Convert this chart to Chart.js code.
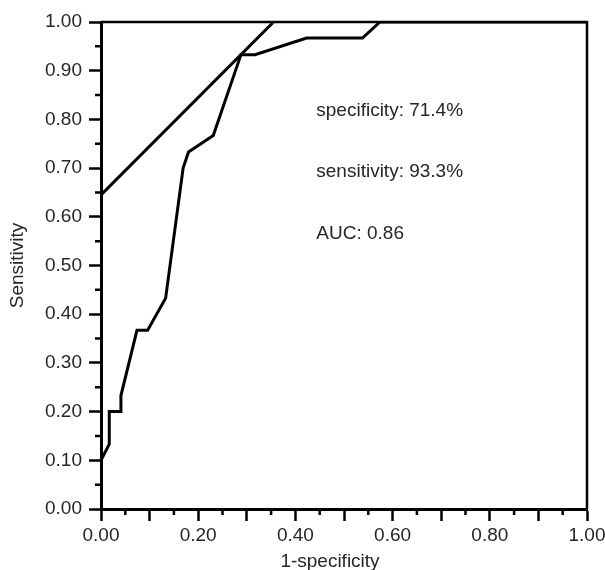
<!DOCTYPE html>
<html>
<head>
<meta charset="utf-8">
<script src="https://cdn.jsdelivr.net/npm/chart.js@4.4.1/dist/chart.umd.min.js"></script>
<style>
  html, body { margin: 0; padding: 0; background: #fff; }
  canvas { display: block; }
</style>
</head>
<body>
<canvas id="roc-chart" width="605" height="570"></canvas>
<script>
// ROC curve: 1-specificity vs sensitivity
const fpr = [0, 0, 0.017, 0.017, 0.041, 0.041, 0.074, 0.096, 0.133, 0.169, 0.180, 0.231, 0.288, 0.317, 0.423, 0.538, 0.574, 1.0];
const tpr = [0, 0.10, 0.133, 0.20, 0.20, 0.233, 0.367, 0.367, 0.433, 0.70, 0.733, 0.767, 0.933, 0.933, 0.967, 0.967, 1.0, 1.0];

// tangent line through the cut-off point
const cutoffX = [0, 0.355];
const cutoffY = [0.645, 1.0];

const annotations = ["specificity: 71.4%", "sensitivity: 93.3%", "AUC: 0.86"];
const annotationX = 0.443;
const annotationY = [0.806, 0.682, 0.554];

const xTitle = "1-specificity";
const yTitle = "Sensitivity";

const FONT = '"Liberation Sans", Arial, Helvetica, sans-serif';
const TEXT = "#262626";
Chart.defaults.font.family = FONT;
Chart.defaults.color = TEXT;

function toPoints(xs, ys) {
  return xs.map((x, i) => ({ x, y: ys[i] }));
}

const framePlugin = {
  id: "frame",
  afterDraw(chart) {
    const { ctx, chartArea: area, scales } = chart;
    const x = scales.x;
    const y = scales.y;
    ctx.save();
    ctx.strokeStyle = "#000";
    ctx.lineWidth = 2.5;
    ctx.beginPath();
    ctx.moveTo(area.left, area.top);
    ctx.lineTo(area.right, area.top);
    ctx.lineTo(area.right, area.bottom);
    ctx.stroke();

    // minor ticks every 0.05
    ctx.beginPath();
    for (let i = 0; i < 10; i++) {
      const v = 0.05 + i * 0.1;
      const px = x.getPixelForValue(v);
      ctx.moveTo(px, area.bottom);
      ctx.lineTo(px, area.bottom + 6);
      const py = y.getPixelForValue(v);
      ctx.moveTo(area.left, py);
      ctx.lineTo(area.left - 6, py);
    }
    ctx.stroke();

    ctx.fillStyle = TEXT;
    ctx.font = "19px " + FONT;
    ctx.textAlign = "left";
    ctx.textBaseline = "alphabetic";
    annotations.forEach((label, i) => {
      ctx.fillText(label, x.getPixelForValue(annotationX), y.getPixelForValue(annotationY[i]));
    });

    ctx.textAlign = "center";
    ctx.textBaseline = "middle";
    ctx.fillText(xTitle, 330, 562);
    ctx.translate(18, (area.top + area.bottom) / 2);
    ctx.rotate(-Math.PI / 2);
    ctx.fillText(yTitle, 0, 0);
    ctx.restore();
  },
};

const ctx = document.getElementById("roc-chart").getContext("2d");
new Chart(ctx, {
  type: "scatter",
  data: {
    datasets: [
      {
        label: "ROC",
        data: toPoints(fpr, tpr),
        showLine: true,
        borderColor: "#000",
        borderWidth: 3,
        pointRadius: 0,
        tension: 0,
      },
      {
        label: "Cut-off",
        data: toPoints(cutoffX, cutoffY),
        showLine: true,
        borderColor: "#000",
        borderWidth: 3,
        pointRadius: [0, 1.5],
        pointBackgroundColor: "#e8e000",
        pointBorderWidth: 0,
      },
    ],
  },
  options: {
    responsive: false,
    animation: false,
    devicePixelRatio: 1,
    layout: { padding: { top: 22, right: 18, left: 0, bottom: 0 } },
    plugins: {
      legend: { display: false },
      tooltip: { enabled: false },
    },
    scales: {
      x: {
        type: "linear",
        min: 0,
        max: 1,
        afterFit: (scale) => {
          scale.height = 61;
          scale.paddingLeft = 0;
          scale.paddingRight = 0;
        },
        border: { display: true, color: "#000", width: 3 },
        grid: { drawOnChartArea: false, drawTicks: true, tickLength: 12, tickWidth: 2.5, tickColor: "#000" },
        ticks: {
          stepSize: 0.1,
          autoSkip: false,
          maxRotation: 0,
          padding: 3,
          font: { size: 19 },
          callback: (v) => (Math.round(v * 10) % 2 === 0 ? v.toFixed(2) : ""),
        },
      },
      y: {
        type: "linear",
        min: 0,
        max: 1,
        afterFit: (scale) => {
          scale.width = 101;
          scale.paddingTop = 0;
          scale.paddingBottom = 0;
        },
        border: { display: true, color: "#000", width: 3 },
        grid: { drawOnChartArea: false, drawTicks: true, tickLength: 12, tickWidth: 2.5, tickColor: "#000" },
        ticks: {
          stepSize: 0.1,
          autoSkip: false,
          padding: 7,
          font: { size: 19 },
          callback: (v) => v.toFixed(2),
        },
      },
    },
  },
  plugins: [framePlugin],
});
</script>
</body>
</html>
